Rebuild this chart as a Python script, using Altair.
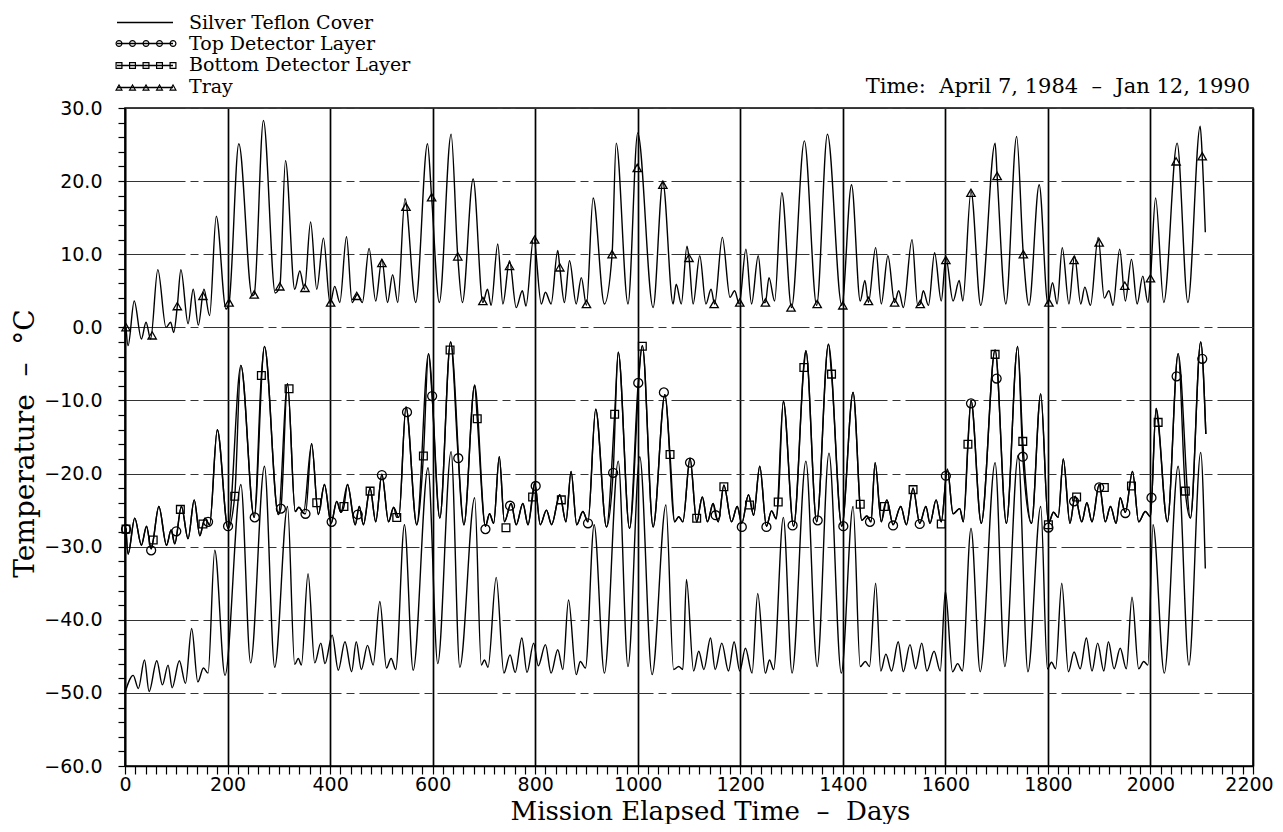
import altair as alt
import pandas as pd

# ---------------- data ----------------
silver_day = [0, 16, 26, 38, 47, 62, 73, 84, 92, 106, 118, 130, 142, 153, 162, 175, 195, 226, 245, 272,
              292, 317, 331, 338, 344, 357, 370, 382, 390, 404, 416, 429, 442, 451, 461, 473, 484, 497, 510, 519,
              528, 545, 562, 591, 610, 636, 653, 682, 695, 701, 708, 724, 739, 751, 761, 774, 784, 797, 806, 820,
              831, 844, 854, 865, 880, 888, 898, 915, 935, 962, 981, 1004, 1028, 1055, 1070, 1080, 1088, 1095, 1109, 1119,
              1129, 1142, 1151, 1164, 1177, 1188, 1199, 1210, 1223, 1234, 1249, 1257, 1265, 1284, 1301, 1328, 1350, 1373, 1397, 1420,
              1434, 1444, 1452, 1464, 1474, 1484, 1495, 1508, 1518, 1531, 1542, 1554, 1564, 1578, 1590, 1600, 1614, 1624, 1633, 1650,
              1668, 1697, 1716, 1742, 1761, 1786, 1799, 1807, 1815, 1827, 1840, 1851, 1863, 1875, 1886, 1897, 1909, 1918, 1929, 1941,
              1953, 1964, 1977, 1987, 1995, 2005, 2027, 2054, 2075, 2098, 2107]
silver_temp = [-50.0, -47.6, -49.4, -45.5, -49.8, -45.6, -48.9, -46.2, -49.3, -45.6, -48.7, -41.2, -48.5, -46.6, -47.3, -30.5, -47.6, -21.5, -45.9, -19.0,
               -46.5, -24.5, -46.1, -45.3, -46.2, -33.7, -45.9, -43.2, -46.0, -42.1, -46.9, -43.0, -47.1, -43.0, -46.8, -43.5, -46.2, -37.5, -46.6, -45.3,
               -46.8, -27.0, -46.9, -19.2, -46.0, -17.0, -46.5, -23.3, -46.2, -45.5, -46.5, -34.2, -47.3, -44.8, -47.2, -42.5, -47.2, -43.2, -46.3, -43.4,
               -47.3, -44.1, -46.8, -37.3, -47.5, -45.7, -46.6, -27.0, -47.3, -18.3, -46.4, -17.7, -47.5, -24.3, -46.8, -46.4, -46.8, -34.5, -47.0, -44.3,
               -46.8, -42.5, -46.8, -43.2, -47.0, -43.0, -47.0, -43.9, -47.3, -36.4, -47.3, -45.5, -46.8, -26.0, -47.3, -18.3, -46.4, -17.2, -47.3, -24.5,
               -46.4, -45.7, -46.4, -35.0, -47.0, -44.7, -47.0, -43.0, -47.1, -43.4, -46.7, -43.2, -47.0, -44.3, -47.0, -36.1, -47.1, -46.0, -47.0, -27.5,
               -47.1, -18.5, -46.4, -17.5, -47.1, -24.5, -46.7, -45.8, -46.7, -35.0, -47.1, -44.4, -46.7, -42.5, -47.0, -43.2, -47.0, -43.0, -46.7, -43.9,
               -46.7, -36.9, -46.7, -45.7, -46.2, -27.0, -47.3, -19.0, -46.2, -17.1, -33.0]

detector_day = [2, 6, 19, 32, 42, 51, 66, 81, 90, 97, 110, 123, 135, 146, 156, 165, 180, 201, 226, 252,
                272, 299, 317, 332, 339, 348, 364, 377, 389, 402, 413, 421, 434, 449, 457, 465, 478, 489, 501, 514,
                524, 534, 548, 569, 592, 614, 635, 661, 682, 703, 711, 719, 730, 740, 753, 763, 776, 786, 799, 810,
                822, 832, 848, 860, 870, 881, 893, 903, 918, 939, 962, 984, 1009, 1030, 1053, 1072, 1080, 1088, 1102, 1115,
                1126, 1136, 1147, 1157, 1168, 1183, 1194, 1203, 1216, 1226, 1238, 1251, 1261, 1270, 1284, 1304, 1328, 1349, 1372, 1398,
                1420, 1437, 1447, 1455, 1463, 1475, 1486, 1498, 1513, 1524, 1537, 1550, 1562, 1570, 1582, 1592, 1604, 1615, 1628, 1635,
                1650, 1670, 1697, 1719, 1741, 1768, 1786, 1801, 1811, 1820, 1830, 1843, 1853, 1866, 1876, 1886, 1900, 1912, 1922, 1933,
                1941, 1951, 1965, 1977, 1990, 2000, 2011, 2033, 2054, 2078, 2098, 2108]
detector_temp = [-27.5, -31.0, -26.1, -29.8, -27.2, -30.3, -24.5, -29.8, -27.7, -29.6, -24.5, -28.9, -23.6, -28.5, -26.1, -27.0, -14.0, -27.5, -5.2, -26.0,
                 -2.6, -25.6, -7.7, -25.2, -24.6, -25.4, -15.9, -25.6, -21.5, -26.8, -23.8, -25.3, -21.5, -27.0, -24.5, -27.0, -22.0, -26.6, -20.1, -26.6,
                 -24.6, -26.0, -10.9, -27.0, -3.6, -26.1, -2.0, -27.0, -7.9, -27.2, -25.5, -26.8, -17.7, -26.6, -24.1, -27.0, -24.1, -27.0, -21.3, -27.0,
                 -25.0, -27.0, -22.9, -26.6, -19.7, -27.0, -25.2, -26.6, -11.2, -27.3, -3.4, -27.5, -2.5, -27.3, -9.2, -26.6, -25.9, -26.6, -17.9, -26.6,
                 -23.2, -26.6, -24.1, -26.6, -21.6, -26.6, -24.5, -26.8, -22.9, -25.7, -19.0, -27.2, -25.1, -26.2, -10.1, -27.2, -3.2, -26.6, -2.3, -27.2,
                 -8.9, -26.4, -25.8, -26.6, -18.5, -26.6, -23.6, -27.0, -24.5, -27.0, -22.0, -26.8, -24.5, -26.8, -23.6, -26.6, -19.4, -25.5, -24.8, -26.6,
                 -10.0, -26.8, -3.1, -26.8, -2.6, -26.8, -9.1, -26.8, -25.3, -26.0, -18.0, -26.8, -23.1, -26.6, -24.0, -26.6, -21.5, -26.6, -24.5, -26.8,
                 -23.3, -25.3, -19.7, -26.6, -25.2, -25.9, -11.1, -26.6, -3.6, -26.1, -2.0, -14.6]

tray_day = [2, 6, 18, 32, 41, 50, 64, 80, 89, 95, 109, 123, 133, 143, 154, 165, 178, 197, 222, 248,
            270, 293, 313, 331, 341, 350, 362, 374, 387, 400, 409, 419, 432, 443, 453, 463, 476, 489, 501, 512,
            522, 532, 546, 567, 590, 613, 636, 658, 679, 698, 707, 714, 727, 737, 750, 763, 775, 782, 797, 812,
            820, 831, 844, 857, 867, 880, 890, 900, 913, 935, 958, 981, 1000, 1030, 1049, 1069, 1075, 1085, 1096, 1108,
            1121, 1133, 1143, 1150, 1165, 1180, 1189, 1198, 1211, 1222, 1235, 1245, 1256, 1267, 1281, 1300, 1325, 1349, 1370, 1398,
            1417, 1434, 1443, 1450, 1464, 1475, 1488, 1501, 1509, 1518, 1535, 1546, 1557, 1567, 1579, 1592, 1601, 1615, 1627, 1634,
            1650, 1669, 1697, 1718, 1739, 1763, 1783, 1800, 1809, 1818, 1828, 1841, 1852, 1864, 1872, 1883, 1898, 1910, 1919, 1927,
            1940, 1951, 1963, 1974, 1985, 1995, 2010, 2026, 2052, 2073, 2097, 2107]
tray_temp = [0.0, -2.5, 3.6, -1.6, 0.7, -1.6, 7.9, 0.0, 0.7, -0.7, 7.9, 0.5, 5.2, 0.3, 5.2, 1.6, 15.2, 2.5, 25.1, 4.3,
             28.3, 4.7, 22.8, 5.2, 7.7, 5.2, 14.4, 5.2, 12.2, 3.2, 5.6, 3.4, 12.4, 3.4, 4.5, 3.4, 10.8, 3.6, 9.3, 3.4,
             7.2, 3.4, 17.6, 3.4, 25.1, 3.4, 26.4, 3.4, 20.3, 3.4, 5.2, 3.0, 11.4, 3.2, 9.1, 2.7, 5.0, 2.9, 12.3, 3.2,
             4.8, 3.2, 10.5, 3.4, 9.1, 3.2, 6.8, 3.0, 17.7, 3.2, 25.2, 3.2, 26.6, 2.7, 19.8, 3.2, 5.9, 3.2, 11.1, 3.2,
             9.8, 3.2, 5.2, 3.2, 12.3, 4.1, 5.0, 3.2, 10.7, 3.2, 9.8, 3.4, 6.8, 3.6, 18.4, 2.7, 25.5, 3.0, 26.4, 3.0,
             19.5, 3.6, 6.4, 3.4, 10.9, 3.2, 9.8, 3.4, 5.0, 2.7, 12.0, 3.0, 5.0, 3.0, 10.2, 3.6, 9.5, 3.6, 6.4, 3.6,
             18.6, 3.0, 25.2, 3.2, 26.1, 3.0, 19.5, 3.2, 6.1, 3.2, 10.9, 3.2, 9.8, 3.2, 5.5, 3.0, 12.3, 4.0, 5.0, 3.0,
             10.7, 3.6, 9.3, 3.2, 7.0, 3.4, 17.7, 3.4, 25.2, 3.4, 27.5, 13.0]

# plotted symbols
top_mark_day = [2, 51, 100, 162, 201, 253, 304, 352, 403, 454, 501, 550, 599, 650, 703, 751, 801, 903, 952, 1001,
                1051, 1102, 1152, 1203, 1251, 1302, 1351, 1401, 1453, 1498, 1550, 1601, 1650, 1700, 1751, 1801, 1851, 1900, 1951, 2002,
                2051, 2101]
top_mark_temp = [-27.6, -30.5, -27.9, -26.6, -27.2, -26.0, -24.8, -25.5, -26.6, -25.6, -20.2, -11.6, -9.4, -17.9, -27.6, -24.4, -21.7, -26.8, -19.9, -7.6,
                 -8.9, -18.5, -25.7, -27.3, -27.3, -27.1, -26.4, -27.2, -26.6, -27.1, -26.9, -20.3, -10.4, -7.0, -17.7, -27.4, -23.8, -21.9, -25.4, -23.3,
                 -6.7, -4.3]
bottom_mark_day = [2, 55, 108, 152, 214, 266, 320, 374, 427, 478, 530, 582, 634, 687, 743, 795, 851, 955, 1009, 1063,
                   1115, 1168, 1218, 1274, 1324, 1378, 1434, 1481, 1537, 1592, 1644, 1697, 1751, 1801, 1856, 1910, 1963, 2015, 2068]
bottom_mark_temp = [-27.6, -29.1, -24.9, -26.9, -23.1, -6.6, -8.4, -24.0, -24.5, -22.4, -26.0, -17.6, -3.1, -12.5, -27.4, -23.2, -23.6, -11.9, -2.6, -17.4,
                    -26.1, -21.8, -24.3, -23.9, -5.5, -6.4, -24.2, -24.5, -22.2, -26.9, -16.0, -3.7, -15.6, -27.0, -23.2, -21.9, -21.7, -13.0, -22.4]
tray_mark_day = [2, 53, 102, 152, 203, 252, 302, 351, 401, 452, 501, 548, 598, 649, 698, 750, 799, 848, 900, 950,
                 999, 1049, 1100, 1149, 1199, 1249, 1299, 1350, 1400, 1450, 1501, 1551, 1601, 1650, 1701, 1752, 1802, 1851, 1900, 1950,
                 2000, 2050, 2101]
tray_mark_temp = [0.0, -1.1, 2.9, 4.3, 3.4, 4.5, 5.6, 5.4, 3.4, 4.3, 8.8, 16.5, 17.8, 9.7, 3.6, 8.4, 12.0, 8.2, 3.2, 10.0,
                  21.8, 19.5, 9.5, 3.2, 3.4, 3.4, 2.7, 3.2, 3.0, 3.6, 3.4, 3.2, 9.2, 18.4, 20.7, 10.0, 3.4, 9.2, 11.6, 5.7,
                  6.7, 22.7, 23.4]

series_names = ["Silver Teflon Cover", "Top Detector Layer", "Bottom Detector Layer", "Tray"]
x_ticks = list(range(0, 2201, 20))
y_ticks = list(range(-60, 31, 2))


# ---------------- assemble ----------------
def merge(line_d, line_t, mark_d, mark_t):
    pts = dict(zip(line_d, line_t))
    for d, t in zip(mark_d, mark_t):
        if all(abs(d - ld) > 3 for ld in line_d):
            pts[d] = t
    items = sorted(pts.items())
    return [a for a, _ in items], [b for _, b in items]


def frame(days, temps, name):
    return pd.DataFrame({"day": days, "temp": temps, "series": name})


td, tt = merge(detector_day, detector_temp, top_mark_day, top_mark_temp)
bd, bt = merge(detector_day, detector_temp, bottom_mark_day, bottom_mark_temp)
yd, yt = merge(tray_day, tray_temp, tray_mark_day, tray_mark_temp)

lines_df = pd.concat([
    frame(silver_day, silver_temp, series_names[0]),
    frame(td, tt, series_names[1]),
    frame(bd, bt, series_names[2]),
    frame(yd, yt, series_names[3]),
])

SERIF = "DejaVu Serif"
SANS = "DejaVu Sans"

x_scale = alt.Scale(domain=[0, 2200], nice=False, zero=False)
y_scale = alt.Scale(domain=[-60, 30], nice=False, zero=False)

x_axis = alt.Axis(
    values=x_ticks, tickCount=1000, format="d",
    labelExpr="datum.value % 200 === 0 ? datum.label : ''",
    labelOverlap=False, labelFlush=False,
    labelFont=SANS, labelFontSize=19, labelColor="black", labelPadding=1,
    labelOffset={"condition": {"test": "datum.value === 2200", "value": -4}, "value": 0},
    tickSize=8, tickColor="black", tickWidth=1.2,
    domainColor="black", domainWidth=1.6,
    grid=True, gridColor="black", gridWidth=1.7,
    gridOpacity={"condition": {"test": "datum.value % 200 === 0", "value": 1}, "value": 0},
    title="Mission Elapsed Time\u00a0\u00a0\u2013\u00a0\u00a0Days",
    titleFont=SERIF, titleFontSize=26, titleFontWeight="normal", titleColor="black",
    titleX=585, titleY=53, titleAlign="center", titleBaseline="alphabetic", titleAnchor="middle",
)
y_axis = alt.Axis(
    values=y_ticks, tickCount=1000,
    labelExpr="datum.value % 10 === 0 ? (datum.value < 0 ? '\u2212' : '') + format(abs(datum.value), '.1f') : ''",
    labelOverlap=False, labelFlush=False,
    labelFont=SANS, labelFontSize=19, labelColor="black", labelPadding=16,
    tickSize=7, tickColor="black", tickWidth=1.2,
    domainColor="black", domainWidth=1.6,
    grid=True, gridColor="#333333", gridWidth=1.0, gridDash=[60, 5, 8, 5],
    gridOpacity={"condition": {"test": "datum.value % 10 === 0", "value": 1}, "value": 0},
    title="Temperature\u00a0\u00a0\u2013\u00a0\u00a0\u00b0C",
    titleFont=SERIF, titleFontSize=28, titleFontWeight="normal", titleColor="black",
    titleAngle=270, titleX=-92, titleY=335, titleAlign="center", titleBaseline="alphabetic",
)

lines = alt.Chart(lines_df).mark_line(
    color="black", strokeWidth=1.4, interpolate="monotone"
).encode(
    x=alt.X("day:Q", scale=x_scale, axis=x_axis),
    y=alt.Y("temp:Q", scale=y_scale, axis=y_axis),
    detail="series:N",
)


def markers(days, temps, name, shape, size):
    return alt.Chart(frame(days, temps, name)).mark_point(
        shape=shape, size=size, filled=False, color="black", strokeWidth=1.3, opacity=1
    ).encode(x=alt.X("day:Q", scale=x_scale), y=alt.Y("temp:Q", scale=y_scale))


pts_top = markers(top_mark_day, top_mark_temp, series_names[1], "circle", 80)
pts_bot = markers(bottom_mark_day, bottom_mark_temp, series_names[2], "square", 60)
pts_tray = markers(tray_mark_day, tray_mark_temp, series_names[3], "triangle-up", 70)

# ---------------- legend (drawn in pixel space) ----------------
one = pd.DataFrame({"k": [0]})
legend_layers = []
row_y = [-85.5, -64.5, -42.5, -20.5]
text_base = [-79.5, -58.5, -37.5, -15.5]
shapes = [None, "circle", "square", "triangle-up"]
for i, name in enumerate(series_names):
    legend_layers.append(
        alt.Chart(one).mark_rule(color="black", strokeWidth=1.3).encode(
            x=alt.value(-8), x2=alt.value(48), y=alt.value(row_y[i])
        )
    )
    if shapes[i]:
        for j in range(5):
            legend_layers.append(
                alt.Chart(one).mark_point(
                    shape=shapes[i], size=34, filled=False, color="black", strokeWidth=1.2, opacity=1
                ).encode(x=alt.value(-6 + 13.5 * j), y=alt.value(row_y[i]))
            )
    legend_layers.append(
        alt.Chart(one).mark_text(
            align="left", baseline="alphabetic", font=SERIF, fontSize=19, color="black"
        ).encode(x=alt.value(64), y=alt.value(text_base[i]), text=alt.value(name))
    )

legend_layers.append(
    alt.Chart(one).mark_text(
        align="right", baseline="alphabetic", font=SERIF, fontSize=21, color="black"
    ).encode(x=alt.value(1125), y=alt.value(-15.5),
             text=alt.value("Time:\u00a0 April 7, 1984\u00a0 \u2013\u00a0 Jan 12, 1990"))
)

chart = alt.layer(lines, pts_top, pts_bot, pts_tray, *legend_layers).properties(
    width=1128, height=658,
    autosize=alt.AutoSizeParams(type="none"),
    padding={"left": 117, "top": 100, "right": 22, "bottom": 58},
    background="white",
).configure_view(
    stroke="black", strokeWidth=1.6
)

chart.save("out.html", embed_options={"renderer": "svg", "actions": False})
